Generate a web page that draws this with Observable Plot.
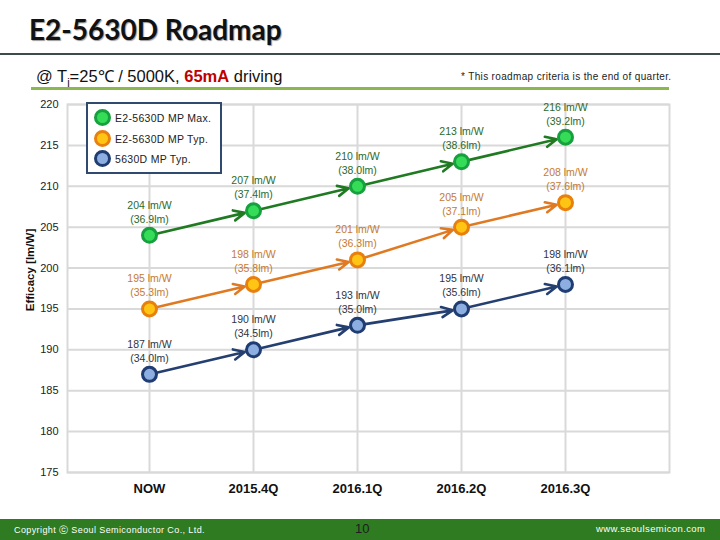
<!DOCTYPE html>
<html>
<head>
<meta charset="utf-8">
<script src="https://cdn.jsdelivr.net/npm/d3@7"></script>
<script src="https://cdn.jsdelivr.net/npm/@observablehq/plot@0.6"></script>
<style>
  html, body { margin: 0; padding: 0; background: #fff; }
  #page { position: relative; width: 720px; height: 540px; overflow: hidden; font-family: "Liberation Sans", Arial, sans-serif; }
  .abs { position: absolute; white-space: nowrap; }
  #title { left: 29px; top: 12px; font-family: Lato, "Open Sans", sans-serif; font-weight: 700; font-size: 28px; color: #111; text-shadow: 1px 1px 1px #9a9a9a; }
  #rule1 { left: 0; top: 53px; width: 720px; height: 2px; background: #3d4b4b; }
  #subtitle { left: 36px; top: 64px; font-size: 16.5px; color: #111; }
  #subtitle .red { color: #c00000; font-weight: 700; }
  #note { left: 461px; top: 71px; font-size: 10px; letter-spacing: 0.35px; color: #222; }
  #rule2 { left: 31px; top: 87px; width: 638px; height: 3px; background: #8ab84f; }
  #chart { position: absolute; left: 0; top: 92px; }
  #ylabel { left: 30px; top: 270px; transform: translate(-50%, -50%) rotate(-90deg); font-size: 11.5px; font-weight: 700; color: #111; }
  #legend { left: 86px; top: 102px; width: 132px; height: 68px; border: 2.5px solid #2f4a6e; background: #fff; }
  .li { position: absolute; left: 0; font-size: 10.5px; color: #222; }
  .li .c { position: absolute; left: 6px; width: 11px; height: 11px; border-radius: 50%; border-width: 3px; border-style: solid; }
  .li .t { position: absolute; left: 27px; top: 0; letter-spacing: 0.3px; }
  #footer { left: 0; top: 519px; width: 720px; height: 21px; background: #2e7b22; }
  #copy { left: 14px; top: 524px; font-size: 9px; color: #fff; letter-spacing: 0.4px; }
  #pnum { left: 355px; top: 521px; font-size: 13px; color: #1d1d1d; }
  #www { left: 596px; top: 523px; font-size: 9.5px; color: #fff; letter-spacing: 0.4px; }
</style>
</head>
<body>
<div id="page">
  <div id="title" class="abs">E2-5630D Roadmap</div>
  <div id="rule1" class="abs"></div>
  <div id="subtitle" class="abs">@ T<sub style="font-size:11px">j</sub>=25℃ / 5000K, <span class="red">65mA</span> driving</div>
  <div id="note" class="abs">* This roadmap criteria is the end of quarter.</div>
  <div id="rule2" class="abs"></div>
  <div id="chart"></div>
  <div id="ylabel" class="abs">Efficacy [lm/W]</div>
  <div id="legend" class="abs"></div>
  <div id="footer" class="abs"></div>
  <div id="copy" class="abs">Copyright ⓒ Seoul Semiconductor Co., Ltd.</div>
  <div id="pnum" class="abs">10</div>
  <div id="www" class="abs">www.seoulsemicon.com</div>
</div>
<script>
// ---- data ----
const quarters = ["NOW", "2015.4Q", "2016.1Q", "2016.2Q", "2016.3Q"];
const seriesNames = ["E2-5630D MP Max.", "E2-5630D MP Typ.", "5630D MP Typ."];
const maxEfficacy = [204, 207, 210, 213, 216];
const maxLumen = [36.9, 37.4, 38.0, 38.6, 39.2];
const typEfficacy = [195, 198, 201, 205, 208];
const typLumen = [35.3, 35.8, 36.3, 37.1, 37.6];
const oldEfficacy = [187, 190, 193, 195, 198];
const oldLumen = [34.0, 34.5, 35.0, 35.6, 36.1];
const yTicks = [175, 180, 185, 190, 195, 200, 205, 210, 215, 220];

// ---- styles ----
const styles = [
  {line: "#1f7a22", fill: "#35dc58", stroke: "#17a03e", label: "#2b6a2b"},
  {line: "#e07a22", fill: "#ffc414", stroke: "#e8800e", label: "#c77a30"},
  {line: "#243f70", fill: "#8daee0", stroke: "#1f3d73", label: "#2f3540"}
];
const effs = [maxEfficacy, typEfficacy, oldEfficacy];
const lums = [maxLumen, typLumen, oldLumen];

const points = [];
const segments = [];
seriesNames.forEach((s, i) => {
  quarters.forEach((q, j) => {
    points.push({series: s, si: i, q, v: effs[i][j], lm: lums[i][j]});
    if (j > 0) segments.push({series: s, si: i, q1: quarters[j - 1], v1: effs[i][j - 1], q2: q, v2: effs[i][j]});
  });
});

const fmtLm = d => `(${d.lm.toFixed(1)}lm)`;

const plot = Plot.plot({
  width: 720,
  height: 426,
  marginLeft: 67,
  marginRight: 51,
  marginTop: 12,
  marginBottom: 46,
  style: {fontFamily: "'Liberation Sans', Arial, sans-serif", background: "transparent"},
  x: {type: "point", domain: quarters, range: [149, 565], padding: 0},
  y: {domain: [175, 220]},
  marks: [
    Plot.gridY(yTicks, {stroke: "#d9d9d9", strokeOpacity: 1, strokeWidth: 2}),
    Plot.gridX(quarters, {stroke: "#d9d9d9", strokeOpacity: 1, strokeWidth: 2}),
    Plot.frame({stroke: "#d9d9d9", strokeWidth: 2}),
    Plot.axisY(yTicks, {tickSize: 0, tickPadding: 9, fontSize: 11, label: null, fill: "#222"}),
    Plot.axisX(quarters, {tickSize: 0, tickPadding: 11, fontSize: 13, fontWeight: "bold", label: null, fill: "#111"}),
    Plot.arrow(segments, {
      x1: "q1", y1: "v1", x2: "q2", y2: "v2",
      stroke: d => styles[d.si].line, strokeWidth: 2.6,
      headLength: 7, headAngle: 50, insetEnd: 9, insetStart: 6, bend: false
    }),
    Plot.dot(points, {
      x: "q", y: "v", r: 7,
      fill: d => styles[d.si].fill, stroke: d => styles[d.si].stroke, strokeWidth: 3
    }),
    Plot.text(points, {
      x: "q", y: "v", text: d => `${d.v} lm/W`, dy: -30,
      fill: d => styles[d.si].label, fontSize: 10.5
    }),
    Plot.text(points, {
      x: "q", y: "v", text: fmtLm, dy: -16,
      fill: d => styles[d.si].label, fontSize: 10.5
    })
  ]
});
document.getElementById("chart").appendChild(plot);

// legend
const legend = document.getElementById("legend");
seriesNames.forEach((s, i) => {
  const item = document.createElement("div");
  item.className = "li";
  item.style.top = (8 + i * 20.5) + "px";
  item.style.width = "130px";
  const c = document.createElement("div");
  c.className = "c";
  c.style.top = "-3px";
  c.style.background = styles[i].fill;
  c.style.borderColor = styles[i].stroke;
  const t = document.createElement("div");
  t.className = "t";
  t.textContent = s;
  item.appendChild(c);
  item.appendChild(t);
  legend.appendChild(item);
});
</script>
</body>
</html>
